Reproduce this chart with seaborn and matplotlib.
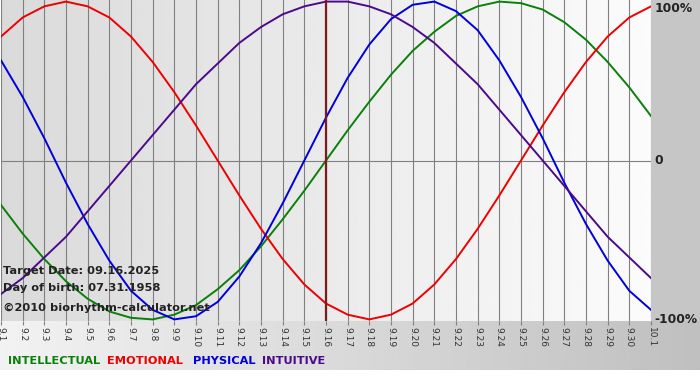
import numpy as np
import pandas as pd
import matplotlib
matplotlib.use("Agg")
import matplotlib.pyplot as plt
import seaborn as sns

# dias del 9.1 al 10.1
day_labels = ["9.1", "9.2", "9.3", "9.4", "9.5", "9.6", "9.7", "9.8", "9.9", "9.10",
              "9.11", "9.12", "9.13", "9.14", "9.15", "9.16", "9.17", "9.18", "9.19", "9.20",
              "9.21", "9.22", "9.23", "9.24", "9.25", "9.26", "9.27", "9.28", "9.29", "9.30",
              "10.1"]
days = list(range(1, 32))

intellectual = [-0.28, -0.46, -0.62, -0.76, -0.87, -0.95, -0.99, -1.00, -0.97, -0.91,
                -0.81, -0.69, -0.54, -0.37, -0.19, 0.00, 0.19, 0.37, 0.54, 0.69,
                0.81, 0.91, 0.97, 1.00, 0.99, 0.95, 0.87, 0.76, 0.62, 0.46, 0.28]
emotional = [0.78, 0.90, 0.97, 1.00, 0.97, 0.90, 0.78, 0.62, 0.43, 0.22,
             0.00, -0.22, -0.43, -0.62, -0.78, -0.90, -0.97, -1.00, -0.97, -0.90,
             -0.78, -0.62, -0.43, -0.22, 0.00, 0.22, 0.43, 0.62, 0.78, 0.90, 0.97]
physical = [0.63, 0.40, 0.14, -0.14, -0.40, -0.63, -0.82, -0.94, -1.00, -0.98,
            -0.89, -0.73, -0.52, -0.27, 0.00, 0.27, 0.52, 0.73, 0.89, 0.98,
            1.00, 0.94, 0.82, 0.63, 0.40, 0.14, -0.14, -0.40, -0.63, -0.82, -0.94]
intuitive = [-0.84, -0.74, -0.61, -0.48, -0.32, -0.16, 0.00, 0.16, 0.32, 0.48,
             0.61, 0.74, 0.84, 0.92, 0.97, 1.00, 1.00, 0.97, 0.92, 0.84,
             0.74, 0.61, 0.48, 0.32, 0.16, 0.00, -0.16, -0.32, -0.48, -0.61, -0.74]

target_day = 16
series_names = ["INTELLECTUAL", "EMOTIONAL", "PHYSICAL", "INTUITIVE"]
colors = {"INTELLECTUAL": "#0a800a", "EMOTIONAL": "#ee0000",
          "PHYSICAL": "#0000dd", "INTUITIVE": "#4b0a8c"}

df = pd.DataFrame({"day": days * 4,
                   "value": intellectual + emotional + physical + intuitive,
                   "serie": sum([[n] * len(days) for n in series_names], [])})

fig = plt.figure(figsize=(7, 3.8), dpi=100)
fig.patch.set_facecolor("white")

# fondo: banda inferior con degradado y margen derecho gris
bg = fig.add_axes([0, 10 / 380, 1, 50 / 380], zorder=-2)
grad = np.linspace(0.95, 0.75, 256).reshape(1, -1)
bg.imshow(grad, cmap="gray", vmin=0, vmax=1, aspect="auto", extent=[0, 1, 0, 1])
bg.axis("off")
side = fig.add_axes([651 / 700, 59 / 380, 49 / 700, 321 / 380], zorder=-2)
side.set_facecolor("#c6c6c6")
side.set_xticks([])
side.set_yticks([])
for s in side.spines.values():
    s.set_visible(False)

ax = fig.add_axes([1 / 700, 59 / 380, 650 / 700, 321 / 380])
pgrad = np.linspace(0.85, 0.985, 256).reshape(1, -1)
ax.imshow(pgrad, cmap="gray", vmin=0, vmax=1, aspect="auto",
          extent=[0, 31, -1.01, 1.01], zorder=0)
ax.set_xlim(1, 31)
ax.set_ylim(-1.01, 1.01)

for d in days:
    ax.axvline(d, color="#808080", lw=0.8, zorder=1)
ax.axhline(0, color="#808080", lw=0.8, zorder=1)

sns.lineplot(data=df, x="day", y="value", hue="serie", palette=colors,
             hue_order=series_names, lw=1.4, legend=False, ax=ax, zorder=3)
ax.axvline(target_day, color="#7a1c1c", lw=1.6, zorder=4)

for s in ax.spines.values():
    s.set_visible(False)
ax.set_xlabel("")
ax.set_ylabel("")
ax.set_yticks([])
ax.set_xticks(days)
ax.set_xticklabels(day_labels, rotation=-90, fontsize=6.5, color="#333333")
ax.tick_params(axis="x", length=3, color="#808080", pad=1)

for yv, txt in [(0.955, "100%"), (0.0, "0"), (-1.0, "-100%")]:
    ax.text(31.15, yv, txt, fontsize=8.8, fontweight="bold", color="#222222",
            va="center", ha="left", clip_on=False)

info = ["Target Date: 09.16.2025", "Day of birth: 07.31.1958",
        "\u00a92010 biorhythm-calculator.net"]
for yv, txt in zip([-0.695, -0.80, -0.925], info):
    ax.text(1.07, yv, txt, fontsize=8.2, fontweight="bold", color="#222222",
            va="center", ha="left", zorder=5)

# leyenda de colores abajo
xpos = [8, 107, 193, 262]
for x, n in zip(xpos, series_names):
    fig.text(x / 700, 1 - 361 / 380, n, fontsize=8.2, fontweight="bold",
             color=colors[n], va="center", ha="left")

fig.savefig("out.png", dpi=100)
